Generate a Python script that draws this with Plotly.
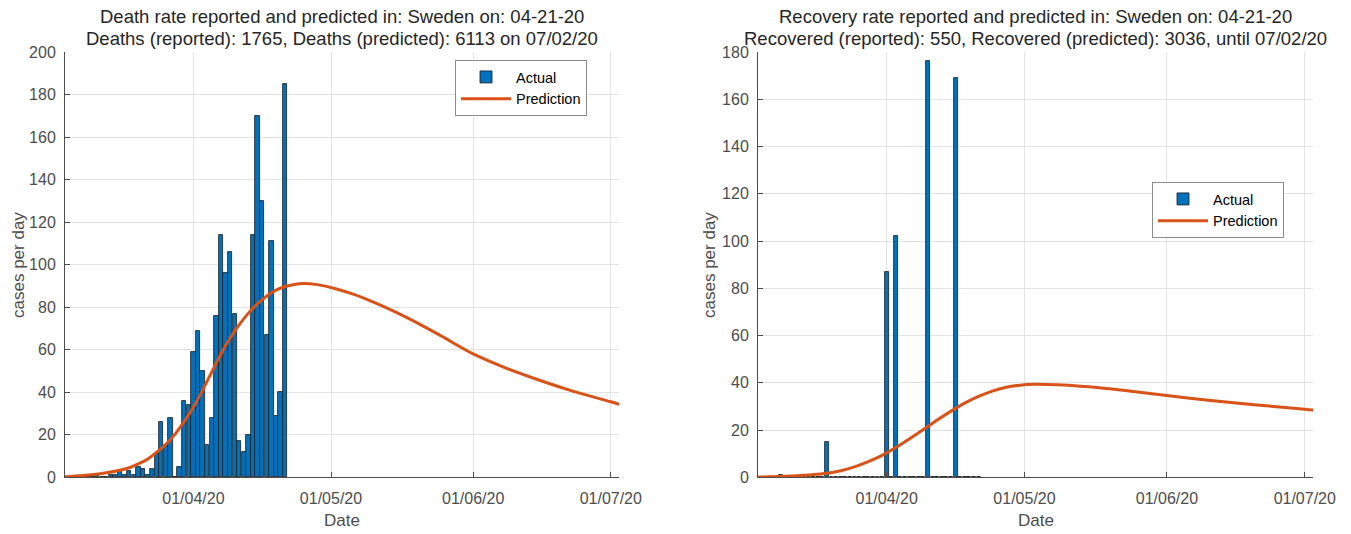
import plotly.graph_objects as go
import pandas as pd

# ---------------- data ----------------
bar_dates = pd.date_range("2020-03-04", "2020-04-21", freq="D")

deaths_actual = [0, 0, 0, 0, 0, 0, 0,            # Mar 4-10
                 1, 0, 0, 1, 1, 3, 1, 3, 1, 5,   # Mar 11-20
                 4, 1, 4, 11, 26, 15, 28, 0, 5, 36, 34,   # Mar 21-31
                 59, 69, 50, 15, 28, 76, 114, 96, 106, 77,  # Apr 1-10
                 17, 12, 20, 114, 170, 130, 67, 111, 29, 40, 185]  # Apr 11-21

recovered_actual = [0] * len(bar_dates)
_rec_points = {"2020-03-09": 1, "2020-03-19": 15, "2020-04-01": 87,
               "2020-04-03": 102, "2020-04-10": 176, "2020-04-16": 169}
for _d, _v in _rec_points.items():
    recovered_actual[list(bar_dates).index(pd.Timestamp(_d))] = _v

death_pred_dates = ["2020-03-04", "2020-03-08", "2020-03-12", "2020-03-16", "2020-03-18",
                    "2020-03-20", "2020-03-22", "2020-03-24", "2020-03-26", "2020-03-28",
                    "2020-03-30", "2020-04-01", "2020-04-03", "2020-04-05", "2020-04-07",
                    "2020-04-09", "2020-04-11", "2020-04-13", "2020-04-15", "2020-04-17",
                    "2020-04-19", "2020-04-21", "2020-04-23", "2020-04-25", "2020-04-28",
                    "2020-05-02", "2020-05-06", "2020-05-10", "2020-05-15", "2020-05-20",
                    "2020-05-25", "2020-06-01", "2020-06-08", "2020-06-15", "2020-06-22",
                    "2020-07-01", "2020-07-03"]
death_pred = [0.3, 0.9, 1.8, 3.3, 4.5,
              6.3, 8.5, 11.8, 15.5, 20.3,
              26.3, 33, 41, 49.5, 58,
              65.5, 71.8, 77.2, 81.7, 85.3,
              88, 89.7, 90.7, 91.1, 90.6,
              88.7, 86, 82.6, 77.8, 72.4,
              66.5, 58, 51.5, 46, 41,
              35.5, 34.2]

rec_pred_dates = ["2020-03-04", "2020-03-10", "2020-03-15", "2020-03-19", "2020-03-22",
                  "2020-03-25", "2020-03-28", "2020-03-31", "2020-04-03", "2020-04-06",
                  "2020-04-09", "2020-04-12", "2020-04-15", "2020-04-18", "2020-04-21",
                  "2020-04-24", "2020-04-27", "2020-04-30", "2020-05-03", "2020-05-08",
                  "2020-05-15", "2020-05-22", "2020-06-01", "2020-06-10", "2020-06-20",
                  "2020-07-01", "2020-07-03"]
rec_pred = [0.1, 0.4, 1.0, 1.7, 2.8,
            4.4, 6.6, 9.3, 12.6, 16.3,
            20.2, 24.2, 28.0, 31.4, 34.2,
            36.5, 38.1, 39.0, 39.4, 39.2,
            38.3, 36.9, 34.6, 32.6, 30.7,
            28.8, 28.4]

tick_dates = ["2020-04-01", "2020-05-01", "2020-06-01", "2020-07-01"]
tick_text = ["01/04/20", "01/05/20", "01/06/20", "01/07/20"]

title_left = ["Death rate reported and predicted in: Sweden on: 04-21-20",
              "Deaths (reported): 1765, Deaths (predicted): 6113 on 07/02/20"]
title_right = ["Recovery rate reported and predicted in: Sweden on: 04-21-20",
               "Recovered (reported): 550, Recovered (predicted): 3036, until 07/02/20"]

# ---------------- style ----------------
W, H = 1351, 534
BLUE = "#0072BD"
ORANGE = "#D95319"
TXT = "#262626"
AX = "#4d4d4d"
GRID = "#E3E3E3"
FONT = "Liberation Sans, Arial, sans-serif"
DAY_MS = 86400000

def px_x(p):
    return p / W

def px_y(p):
    return 1 - p / H

left_dom = [px_x(65), px_x(619)]
right_dom = [px_x(758), px_x(1313)]
y_dom = [px_y(477.3), px_y(52)]
xrange_ = ["2020-03-04", "2020-07-02 19:00"]

fig = go.Figure()

fig.add_trace(go.Bar(x=bar_dates, y=deaths_actual, name="Actual", width=0.95 * DAY_MS,
                     marker=dict(color=BLUE, line=dict(color="#1a1a1a", width=0.8)),
                     xaxis="x", yaxis="y", legend="legend"))
fig.add_trace(go.Scatter(x=death_pred_dates, y=death_pred, name="Prediction", mode="lines",
                         line=dict(color=ORANGE, width=3, shape="spline", smoothing=1.0),
                         xaxis="x", yaxis="y", legend="legend"))
fig.add_trace(go.Bar(x=bar_dates, y=recovered_actual, name="Actual", width=0.85 * DAY_MS,
                     marker=dict(color=BLUE, line=dict(color="#1a1a1a", width=0.8)),
                     xaxis="x2", yaxis="y2", legend="legend2"))
fig.add_trace(go.Scatter(x=rec_pred_dates, y=rec_pred, name="Prediction", mode="lines",
                         line=dict(color=ORANGE, width=3, shape="spline", smoothing=1.0),
                         xaxis="x2", yaxis="y2", legend="legend2"))

xcommon = dict(type="date", range=xrange_, tickvals=tick_dates, ticktext=tick_text,
               showgrid=True, gridcolor=GRID, gridwidth=1, showline=True,
               linecolor=AX, linewidth=1, ticks="inside", ticklen=5,
               tickcolor=AX, tickfont=dict(family=FONT, size=16, color=AX),
               ticklabelstandoff=6, automargin=False,
               zeroline=False, fixedrange=True)
ycommon = dict(showgrid=True, gridcolor=GRID, gridwidth=1, showline=True,
               linecolor=AX, linewidth=1, ticks="inside", ticklen=5,
               tickcolor=AX, tickfont=dict(family=FONT, size=16, color=AX),
               ticklabelstandoff=5, automargin=False,
               zeroline=False, dtick=20, tick0=0)

legend_common = dict(bgcolor="white", bordercolor="#8c8c8c", borderwidth=1,
                     font=dict(family=FONT, size=14.5, color="#000000"),
                     xanchor="left", yanchor="top", tracegroupgap=0, itemwidth=50)

fig.update_layout(
    width=W, height=H, margin=dict(l=0, r=0, t=0, b=0, pad=0, autoexpand=False),
    paper_bgcolor="white", plot_bgcolor="white",
    font=dict(family=FONT, color=TXT),
    bargap=0,
    xaxis=dict(domain=left_dom, anchor="y", **xcommon),
    yaxis=dict(domain=y_dom, anchor="x", range=[0, 200], **ycommon),
    xaxis2=dict(domain=right_dom, anchor="y2", **xcommon),
    yaxis2=dict(domain=y_dom, anchor="x2", range=[0, 180], **ycommon),
    legend=dict(x=px_x(455), y=px_y(60), **legend_common),
    legend2=dict(x=px_x(1152), y=px_y(182), **legend_common),
    showlegend=True,
)

annotations = []
for lines, cx in ((title_left, 342), (title_right, 1035.5)):
    for line, cy in zip(lines, (17, 39)):
        annotations.append(dict(text=line, x=px_x(cx), y=px_y(cy), xref="paper", yref="paper",
                                xanchor="center", yanchor="middle", showarrow=False,
                                font=dict(family=FONT, size=18.5, color=TXT)))
for cx in (342, 1035.5):
    annotations.append(dict(text="Date", x=px_x(cx), y=px_y(520), xref="paper", yref="paper",
                            xanchor="center", yanchor="middle", showarrow=False,
                            font=dict(family=FONT, size=17, color=AX)))
for cx in (18, 709):
    annotations.append(dict(text="cases per day", x=px_x(cx), y=px_y(265), xref="paper",
                            yref="paper", xanchor="center", yanchor="middle", showarrow=False,
                            textangle=-90, font=dict(family=FONT, size=17, color=AX)))
fig.update_layout(annotations=annotations)

fig.write_html("out.html",
               config={"displayModeBar": False},
               post_script="document.body.style.margin='0px';"
                           "document.body.style.overflow='hidden';")
